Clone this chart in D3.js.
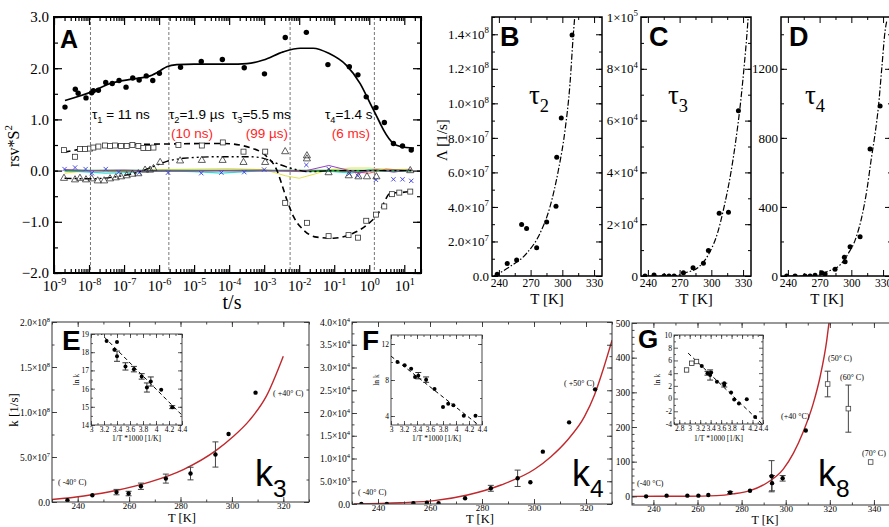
<!DOCTYPE html>
<html><head><meta charset="utf-8">
<script src="https://cdn.jsdelivr.net/npm/d3@7"></script>
<style>body{margin:0;background:#fff}svg{display:block}</style>
</head><body>
<svg id="chart" width="889" height="527"></svg>
<script>
// ================= DATA =================
// Panel A  (t [s], rsv*S^2)
const aDots = [[2.06e-9,1.24],[4.06e-9,1.59],[4.9e-9,1.51],[8.2e-9,1.42],[1.19e-8,1.52],[1.33e-8,1.56],[1.85e-8,1.57],[3.0e-8,1.72],[4.6e-8,1.70],[7.2e-8,1.76],[1.14e-7,1.63],[1.77e-7,1.81],[2.7e-7,1.77],[4.3e-7,1.85],[6.6e-7,1.76],[1.02e-6,1.90],[4.1e-6,2.02],[1.6e-5,2.13],[6.4e-5,2.17],[2.7e-4,2.01],[1.02e-3,1.89],[4.0e-3,2.60],[1.6e-2,2.70],[6.6e-2,2.07],[0.27,2.03],[0.475,1.87],[0.82,1.44],[1.55,1.23],[2.7,0.94],[4.9,0.53],[8.9,0.48],[15.8,0.40]];
const aDotsFit = [[2.06e-9,1.37],[1.2e-8,1.54],[4.0e-8,1.70],[1.85e-7,1.79],[5.5e-7,1.85],[1.07e-6,1.95],[1.66e-6,2.03],[3.2e-6,2.07],[1e-5,2.08],[1e-4,2.08],[3.2e-4,2.09],[9.5e-4,2.16],[3.5e-3,2.32],[1.07e-2,2.39],[2.5e-2,2.39],[7.0e-2,2.29],[0.22,2.06],[0.55,1.70],[1.07,1.31],[2.06,0.92],[2.57,0.79],[4.9,0.53],[7.7,0.47],[18.9,0.44]];
const aSquares = [[1.93e-9,0.40],[3.98e-9,0.27],[5.5e-9,0.42],[7.7e-9,0.42],[1.07e-8,0.43],[1.33e-8,0.45],[1.85e-8,0.47],[2.87e-8,0.49],[3.98e-8,0.48],[5.5e-8,0.49],[8.2e-8,0.48],[1.19e-7,0.48],[1.73e-7,0.50],[2.56e-7,0.48],[3.56e-7,0.44],[4.9e-7,0.44],[6.9e-7,0.45],[3.56e-6,0.50],[1.66e-5,0.49],[6.6e-5,0.55],[2.57e-4,0.37],[1.07e-3,0.37],[3.98e-3,-0.63],[1.66e-2,-1.02],[6.9e-2,-1.28],[0.256,-1.26],[0.475,-1.31],[0.82,-0.98],[1.55,-0.86],[2.68,-0.70],[4.45,-0.46],[7.2,-0.43],[14.8,-0.41]];
const aSquaresFit = [[2.0e-9,0.36],[1.07e-8,0.45],[6e-8,0.50],[1.66e-6,0.52],[6.8e-5,0.53],[3.9e-4,0.45],[1.2e-3,0.27],[2.3e-3,0.01],[3.3e-3,-0.30],[4.6e-3,-0.60],[6.9e-3,-0.90],[1.33e-2,-1.16],[3.2e-2,-1.30],[9.5e-2,-1.32],[0.356,-1.22],[0.86,-1.06],[2.06,-0.77],[2.57,-0.64],[3.98,-0.44],[7.7,-0.43],[14.8,-0.41]];
const aTriangles = [[1.93e-9,-0.15],[3.98e-9,-0.18],[5.5e-9,-0.15],[8.2e-9,-0.18],[1.19e-8,-0.16],[1.77e-8,-0.20],[2.7e-8,-0.20],[3.98e-8,-0.16],[5.8e-8,-0.14],[8.2e-8,-0.12],[1.19e-7,-0.10],[1.73e-7,-0.07],[2.56e-7,-0.06],[3.98e-7,0.01],[5.5e-7,0.01],[6.9e-7,0.04],[1.07e-6,0.16],[3.98e-6,0.19],[1.66e-5,0.20],[6.5e-5,0.20],[2.57e-4,0.16],[1.07e-3,0.16],[3.98e-3,0.37],[1.66e-2,0.23],[1.66e-2,0.29],[6.9e-2,-0.04],[0.26,-0.10],[0.49,-0.12],[0.86,-0.12],[1.6,-0.12],[14.8,0.0]];
const aTrianglesFit = [[2e-9,-0.15],[1.07e-8,-0.16],[6e-8,-0.12],[2.8e-7,-0.02],[6.9e-7,0.08],[1.66e-6,0.18],[4.96e-6,0.24],[4.4e-5,0.27],[3.98e-4,0.27],[9.6e-4,0.24],[2.3e-3,0.14],[5.5e-3,0.05],[2.0e-2,-0.02],[0.1,0.0],[1,0.0],[16,0.0]];
const aCyan = [[2e-9,0.0],[1e-8,-0.03],[3e-8,-0.05],[1e-7,-0.04],[1e-6,0.0],[1e-5,-0.02],[6e-5,-0.05],[3e-4,-0.02],[1e-3,0.0],[4e-3,0.0],[1.6e-2,-0.02],[7e-2,-0.01],[0.3,-0.05],[1,0.02],[5,-0.02],[16,0.0]];
const aYellow = [[2e-9,-0.05],[1e-8,0.0],[1e-7,-0.02],[1e-6,0.02],[1e-5,0.03],[1e-4,0.04],[1e-3,0.02],[4e-3,-0.1],[1e-2,-0.15],[3e-2,-0.06],[7e-2,0.02],[0.3,0.05],[1,0.05],[5,0.02],[16,0.03]];
const aPurple = [[2e-9,0.02],[1e-8,0.0],[1e-7,0.01],[1e-6,-0.01],[1e-4,0.0],[1e-3,0.0],[1.6e-2,0.0],[7e-2,0.1],[0.27,0.0],[0.5,-0.05],[1.5,0.02],[5,-0.03],[16,0.02]];
const aRed = [[2e-9,0.01],[1e-7,-0.01],[1e-5,0.0],[1e-3,0.01],[1e-2,-0.02],[0.1,0.0],[1,-0.05],[3,0.03],[16,0.0]];
const aBlueX = [[2e-9,0.03],[4e-9,0.06],[8e-9,0.03],[1.2e-8,-0.05],[3e-8,0.03],[7e-8,-0.03],[2.7e-7,-0.04],[1.8e-6,-0.04],[1.6e-5,-0.05],[6e-5,-0.04],[2.7e-4,-0.03],[1e-3,0.02],[1.6e-2,0.11],[7e-2,0.03],[0.27,-0.06],[0.47,-0.1],[1.55,-0.18],[4.9,-0.17],[8.9,-0.17],[15.8,-0.2]];
const aTau = [1.1e-8, 1.9e-6, 5.5e-3, 1.4];
const aXTickExp = [-9,-8,-7,-6,-5,-4,-3,-2,-1,0,1];
const aYTicks = [-2,-1,0,1,2,3];

// Panels B, C, D (T [K], Lambda [1/s])
const bcdXTicks = [240,270,300,330];
const bT = [238.4,247.9,256.8,261.5,266.2,275.7,285.2,294,294.7,299,309.2];
const bL = [1.0e6,7.3e6,9.2e6,2.98e7,2.75e7,1.63e7,3.13e7,4.04e7,6.88e7,9.15e7,1.396e8];
const bFitT = [235.3,250.4,266.2,278.8,288.3,296.2,302.5,307.2,310.4,312];
const bFitL = [0,5.4e6,1.31e7,2.46e7,4.0e7,6.11e7,8.42e7,1.11e8,1.40e8,1.52e8];
const bYTicks = [0,2e7,4e7,6e7,8e7,1e8,1.2e8,1.4e8];
const cT = [237.3,245.8,255.3,260,264.8,273.6,282.7,292.5,297.2,307.4,316.2,325.6];
const cL = [0,400,0,0,0,1270,3200,4900,9800,24200,24600,63800];
const cFitT = [240,263.1,275.8,288.4,297.9,305.8,312.1,318.4,323.2,327.9,331,334.2,335];
const cFitL = [0,0,1270,3600,8760,16500,26800,39700,52500,68000,80800,96300,101000];
const cYTicks = [0,2e4,4e4,6e4,8e4,1e5];
const dT = [238.9,246.8,256.2,261,265.7,272,275.2,284.6,293.4,294.1,298.8,308.3,317.7,327.2];
const dL = [0,0,0,0,4,19,12,39,108,83,170,228,735,984];
const dFitT = [240,264.1,276.8,289.4,297.2,303.6,309.9,314.7,318.7,322.5,325.6,328.9,332,333.7];
const dFitL = [0,0,25,64,131,208,343,498,672,826,980,1212,1424,1482];
const dYTicks = [0,400,800,1200];

// Panel E (k3)
const eT = [236,245.7,255.1,259.8,264.6,274.3,283.9,293.6,298.7,309.2];
const eK = [2e6,7.5e6,1.1e7,9.4e6,1.75e7,2.6e7,3.16e7,5.28e7,7.55e7,1.215e8];
const eErr = [0,0,3e6,2.5e6,3.5e6,5e6,7e6,1.4e7,0,0];
const eFitT = [230,242.4,255.3,268.2,281.1,294,300.4,306.9,313.3,320];
const eFitK = [2.7e6,6.7e6,1.3e7,2.23e7,3.6e7,5.76e7,7.25e7,9.1e7,1.17e8,1.62e8];
const eYTicks = [0,5e7,1e8,1.5e8,2e8];
const eiX = [3.24,3.36,3.40,3.40,3.53,3.66,3.78,3.86,3.92,4.08,4.25];
const eiY = [18.61,18.13,18.56,17.78,17.22,17.07,16.67,16.06,16.39,15.93,14.98];
const eiErr = [0,0,0,0.28,0.2,0.15,0.15,0.25,0.25,0,0.08];
const eiLine = [[3.13,19.1],[4.4,14.54]];
const eiYTicks = [14,15,16,17,18,19];

// Panel F (k4)
const fT = [233.6,243.4,253.6,258.8,263.3,273.5,283.4,293.7,298.6,303.4,313.5,323.5];
const fK = [0,0,150,300,150,1250,3450,5650,4770,11500,17950,25200];
const fErr = [0,0,0,0,0,0,650,1800,0,0,0,0];
const fFitT = [230.8,248.7,261.6,274.4,287.3,300.2,306.5,312.9,319.4,323.3,326,330];
const fFitK = [0,290,730,1980,4180,7630,10400,14070,19190,24000,28500,36000];
const fYTicks = [0,5e3,1e4,1.5e4,2e4,2.5e4,3e4,3.5e4,4e4];
const fiX = [3.10,3.21,3.31,3.37,3.42,3.54,3.67,3.80,3.88,3.96,4.12,4.30];
const fiY = [10.0,9.63,9.26,8.33,8.48,8.04,7.0,5.0,5.37,5.19,4.03,4.03];
const fiErr = [0,0,0,0,0.35,0.3,0,0,0,0,0,0];
const fiLine = [[3.0,10.65],[4.33,3.1]];
const fiYTicks = [4,8,12];

// Panel G (k8)
const gT = [236.7,246,255.4,260.4,264.9,274.8,283.8,293.6,293.8,298.6,309.1];
const gK = [0,2,2,2,4,11,16,58,38,52,190];
const gErr = [0,0,0,0,0,3,0,45,22,8,0];
const gSqT = [319,328.4,338.5];
const gSqK = [324,253,99];
const gSqErr = [37,68,0];
const gFitT = [230.3,255,268.7,276.3,283.8,291.4,298.9,303.5,308,312.5,315.6,318.6,319.6];
const gFitK = [0,0.3,2,7,16.4,38.5,78.6,124.6,187,268,345,450,500];
const gYTicks = [0,100,200,300,400,500];
const giSqX = [2.94,3.04,3.13];
const giSqY = [4.5,5.56,5.83];
const giX = [3.23,3.34,3.39,3.41,3.52,3.66,3.66,3.79,3.85,3.94,4.09,4.25];
const giY = [5.14,3.98,3.71,4.09,2.66,2.12,2.4,0.97,-0.14,-0.78,-0.1,-2.89];
const giErr = [0,0.3,0.8,0,0,0.3,0,0,0,0,0,0];
const giLine = [[2.97,7.15],[4.41,-4.2]];
const giYTicks = [-4,-2,0,2,4,6,8,10];
const giXTicks = [2.8,3,3.2,3.4,3.6,3.8,4,4.2,4.4];
const insetXTicks = [3,3.2,3.4,3.6,3.8,4,4.2,4.4];
const bottomXTicks = [240,260,280,300,320,340];

// ================= HELPERS =================
const svg = d3.select('#chart');
const SERIF = "'Liberation Serif','Times New Roman',serif";
const SANS = "'Liberation Sans',Arial,sans-serif";

function rich(sel, str, fs) {
  sel.text(null);
  const parts = str.split(/([\^_]\{[^}]*\})/).filter(s => s.length);
  let shift = 0;
  parts.forEach(p => {
    if (p[0] === '^' || p[0] === '_') {
      const d = p[0] === '^' ? -0.42 * fs : 0.3 * fs;
      const t = sel.append('tspan').attr('font-size', fs * 0.68).text(p.slice(2, -1));
      if (d - shift) t.attr('dy', d - shift);
      shift = d;
    } else {
      const t = sel.append('tspan').text(p);
      if (shift) t.attr('dy', -shift);
      shift = 0;
    }
  });
}
function txt(g, x, y, str, o) {
  o = o || {};
  const t = g.append('text').attr('x', x).attr('y', y)
    .attr('font-family', o.font || SANS).attr('font-size', o.fs || 12)
    .attr('font-weight', o.bold ? 'bold' : null)
    .attr('fill', o.fill || '#000').attr('text-anchor', o.anchor || 'start');
  if (o.rot) t.attr('transform', `rotate(${o.rot},${x},${y})`);
  rich(t, str, o.fs || 12);
  return t;
}
function sci(d, digits) {
  const e = Math.floor(Math.log10(d) + 1e-9);
  const m = d / Math.pow(10, e);
  return m.toFixed(digits) + '×10^{' + e + '}';
}
function range(a, b, s) { const r = []; for (let v = a; v <= b + 1e-9; v += s) r.push(+v.toFixed(6)); return r; }

function axes(g, x, y, o) {
  const [xa, xb] = x.range(), [yb, ya] = y.range();
  const mk = (gen, tr, scale, vals, len) => {
    const a = g.append('g').attr('transform', tr)
      .call(gen(scale).tickValues(vals).tickSize(-len).tickFormat(''));
    a.select('.domain').remove();
    a.selectAll('line').attr('stroke', o.color || '#000').attr('stroke-width', o.tw || 1);
  };
  [[d3.axisBottom, `translate(0,${yb})`], [d3.axisTop, `translate(0,${ya})`]].forEach(([gen, tr]) => {
    if (o.xMinor) mk(gen, tr, x, o.xMinor, o.minLen);
    mk(gen, tr, x, o.xMajor, o.majLen);
  });
  [[d3.axisLeft, `translate(${xa},0)`], [d3.axisRight, `translate(${xb},0)`]].forEach(([gen, tr]) => {
    if (o.yMinor) mk(gen, tr, y, o.yMinor, o.minLen);
    mk(gen, tr, y, o.yMajor, o.majLen);
  });
  if (o.xFmt) {
    const lx = g.append('g').attr('transform', `translate(0,${yb})`)
      .call(d3.axisBottom(x).tickValues(o.xLabels || o.xMajor).tickSize(0).tickPadding(o.xPad).tickFormat(o.xFmt));
    lx.select('.domain').remove();
    lx.selectAll('text').attr('font-family', SERIF).attr('font-size', o.xfs).attr('fill', '#000')
      .each(function () { rich(d3.select(this), this.textContent, o.xfs); });
  }
  if (o.yFmt) {
    const ly = g.append('g').attr('transform', `translate(${xa},0)`)
      .call(d3.axisLeft(y).tickValues(o.yLabels || o.yMajor).tickSize(0).tickPadding(o.yPad).tickFormat(o.yFmt));
    ly.select('.domain').remove();
    ly.selectAll('text').attr('font-family', SERIF).attr('font-size', o.yfs).attr('fill', '#000')
      .each(function () { rich(d3.select(this), this.textContent, o.yfs); });
  }
  g.append('rect').attr('x', xa).attr('y', ya).attr('width', xb - xa).attr('height', yb - ya)
    .attr('fill', 'none').attr('stroke', o.color || '#000').attr('stroke-width', o.frame || 1);
}
let clipN = 0;
function clipped(g, x, y) {
  const id = 'clp' + (clipN++);
  const [xa, xb] = x.range(), [yb, ya] = y.range();
  svg.append('clipPath').attr('id', id).append('rect')
    .attr('x', xa).attr('y', ya).attr('width', xb - xa).attr('height', yb - ya);
  return g.append('g').attr('clip-path', `url(#${id})`);
}
function curve(g, x, y, pts, o) {
  g.append('path').datum(pts)
    .attr('d', d3.line().x(d => x(d[0])).y(d => y(d[1])).curve(o.curve || d3.curveMonotoneX))
    .attr('fill', 'none').attr('stroke', o.color || '#000').attr('stroke-width', o.w || 1.2)
    .attr('stroke-dasharray', o.dash || null);
}
const zip = (a, b) => a.map((v, i) => [v, b[i]]);
function dots(g, x, y, xs, ys, r) {
  g.selectAll(null).data(zip(xs, ys)).join('circle')
    .attr('cx', d => x(d[0])).attr('cy', d => y(d[1])).attr('r', r).attr('fill', '#000');
}
function errbars(g, x, y, xs, ys, es, cap, col) {
  xs.forEach((t, i) => {
    const e = es[i]; if (!e) return;
    const cx = x(t), a = y(ys[i] - e), b = y(ys[i] + e);
    const s = col || '#444';
    g.append('line').attr('x1', cx).attr('x2', cx).attr('y1', a).attr('y2', b).attr('stroke', s).attr('stroke-width', 1);
    [a, b].forEach(yy => g.append('line').attr('x1', cx - cap).attr('x2', cx + cap).attr('y1', yy).attr('y2', yy).attr('stroke', s).attr('stroke-width', 1));
  });
}

// ================= PANEL A =================
{
  const g = svg.append('g');
  const x = d3.scaleLog().domain([1e-9, 30]).range([54, 421]);
  const y = d3.scaleLinear().domain([-2, 3]).range([273, 17]);
  aTau.forEach(t => g.append('line').attr('x1', x(t)).attr('x2', x(t)).attr('y1', 17).attr('y2', 273)
    .attr('stroke', '#777').attr('stroke-width', 1).attr('stroke-dasharray', '3,2'));
  curve(g, x, y, aYellow, { color: '#e6e24a', w: 1, curve: d3.curveLinear });
  curve(g, x, y, aCyan, { color: '#3fd6d6', w: 1.2, curve: d3.curveLinear });
  curve(g, x, y, aRed, { color: '#e04040', w: 0.8, curve: d3.curveLinear });
  curve(g, x, y, [[2e-9, 0], [16, 0]], { color: '#1f9a2a', w: 1.6, curve: d3.curveLinear });
  curve(g, x, y, aPurple, { color: '#9a3fc0', w: 1, curve: d3.curveLinear });
  g.selectAll(null).data(aBlueX).join('path')
    .attr('d', d3.symbol().type(d3.symbolTimes).size(14))
    .attr('transform', d => `translate(${x(d[0])},${y(d[1])})`)
    .attr('fill', 'none').attr('stroke', '#3b3be0').attr('stroke-width', 0.9);
  curve(g, x, y, aTrianglesFit, { dash: '7,3,2,3,2,3', w: 1.4 });
  curve(g, x, y, aSquaresFit, { dash: '6,4', w: 1.6 });
  curve(g, x, y, aDotsFit, { w: 1.7 });
  g.selectAll(null).data(aTriangles).join('path')
    .attr('d', d3.symbol().type(d3.symbolTriangle).size(22))
    .attr('transform', d => `translate(${x(d[0])},${y(d[1])})`)
    .attr('fill', 'none').attr('stroke', '#333').attr('stroke-width', 0.8);
  g.selectAll(null).data(aSquares).join('rect')
    .attr('x', d => x(d[0]) - 2.5).attr('y', d => y(d[1]) - 2.5).attr('width', 5).attr('height', 5)
    .attr('fill', '#fff').attr('stroke', '#333').attr('stroke-width', 0.8);
  dots(g, x, y, aDots.map(d => d[0]), aDots.map(d => d[1]), 2.7);
  txt(g, 60, 48, 'A', { fs: 25, bold: true });
  txt(g, 92, 119, 'τ_{1} = 11 ns', { fs: 13.5 });
  txt(g, 169, 119, 'τ_{2}=1.9 µs', { fs: 13.5 });
  txt(g, 232, 119, 'τ_{3}=5.5 ms', { fs: 13.5 });
  txt(g, 325, 119, 'τ_{4}=1.4 s', { fs: 13.5 });
  txt(g, 171, 138, '(10 ns)', { fs: 13.5, fill: '#ff1f1f' });
  txt(g, 288, 138, '(99 µs)', { fs: 13.5, fill: '#ff1f1f', anchor: 'end' });
  txt(g, 370, 138, '(6 ms)', { fs: 13.5, fill: '#ff1f1f', anchor: 'end' });
  const minor = [];
  aXTickExp.forEach(e => { for (let m = 2; m <= 9; m++) { const v = m * Math.pow(10, e); if (v <= 30) minor.push(v); } });
  axes(g, x, y, {
    xMajor: aXTickExp.map(e => Math.pow(10, e)), xMinor: minor,
    yMajor: aYTicks, yMinor: range(-2, 3, 0.5), majLen: 8, minLen: 4, tw: 1.2, frame: 2,
    xFmt: d => '10^{' + Math.round(Math.log10(d)) + '}', xPad: 7.5, xfs: 15,
    yFmt: d3.format('.1f'), yPad: 5, yfs: 15
  });
  txt(g, 232, 309, 't/s', { font: SERIF, fs: 20, anchor: 'middle' });
  txt(g, 19, 146, 'rsv*S^{2}', { font: SERIF, fs: 16, anchor: 'middle', rot: -90 });
}

// ================= PANELS B, C, D =================
function tPanel(x0, tl, fitT, fitL, T, L, dom, yTicks, yMinor, yFmt, tau, letter) {
  const g = svg.append('g');
  const x = d3.scaleLinear().domain([233.5, 337.5]).range([x0, x0 + 110]);
  const y = d3.scaleLinear().domain(dom).range([276, 17]);
  const cg = clipped(g, x, y);
  curve(cg, x, y, zip(fitT, fitL), { dash: '6,2,1.5,2', w: 1.2 });
  dots(cg, x, y, T, L, 2.5);
  axes(g, x, y, {
    xMajor: bcdXTicks, xMinor: [255, 285, 315], yMajor: yTicks, yMinor: yMinor,
    majLen: 6, minLen: 3, tw: 1, frame: 1.5,
    xFmt: d => String(d), xPad: 2.5, xfs: 11.5, yFmt: yFmt, yPad: 3, yfs: 13
  });
  txt(g, x0 + 55 - tl, 304, 'T [K]', { font: SERIF, fs: 15, anchor: 'middle' });
  txt(g, x0 + tau, 104, 'τ_{' + letter[1] + '}', { font: SERIF, fs: 27 });
  txt(g, x0 + 8, 46, letter[0], { fs: 27, bold: true });
  return g;
}
{
  const gB = tPanel(492, 0, bFitT, bFitL, bT, bL, [0, 1.5e8], bYTicks, range(0, 1.5e8, 1e7),
    d => d === 0 ? '0.0' : sci(d, 1), 37, ['B', '2']);
  txt(gB, 447, 140, 'Λ [1/s]', { font: SERIF, fs: 15, anchor: 'middle', rot: -90 });
  tPanel(641, 0, cFitT, cFitL, cT, cL, [0, 1e5], cYTicks, range(0, 1e5, 1e4),
    d => d === 0 ? '0' : sci(d, 0), 27, ['C', '3']);
  tPanel(781, 9, dFitT, dFitL, dT, dL, [0, 1500], dYTicks, range(0, 1400, 200),
    d => String(d), 24, ['D', '4']);
}

// ================= BOTTOM PANELS =================
function inset(g, box, xdom, ydom, xTicks, yTicks, yMinor, lblX) {
  const x = d3.scaleLinear().domain(xdom).range([box[0], box[1]]);
  const y = d3.scaleLinear().domain(ydom).range([box[3], box[2]]);
  g.append('rect').attr('x', box[0]).attr('y', box[2]).attr('width', box[1] - box[0]).attr('height', box[3] - box[2]).attr('fill', '#fff');
  return { x, y, finish: () => {
    axes(g, x, y, {
      xMajor: xTicks, xMinor: range(Math.ceil(xdom[0] * 10) / 10, xdom[1], 0.1), yMajor: yTicks, yMinor: yMinor,
      majLen: 4, minLen: 2, tw: 0.8, frame: 0.9, color: '#333',
      xFmt: d => String(d), xPad: 1.5, xfs: 7.5, yFmt: d => String(d), yPad: 2, yfs: 7.5
    });
    txt(g, (box[0] + box[1]) / 2, 441, '1/T *1000 [1/K]', { font: SERIF, fs: 7.5, anchor: 'middle' });
    txt(g, lblX, (box[2] + box[3]) / 2, 'ln k', { font: SERIF, fs: 7.5, anchor: 'middle', rot: -90 });
  } };
}
function kPanel(xr, yr, xdom, ydom, yTicks, yMinor, yFmt) {
  const g = svg.append('g');
  const x = d3.scaleLinear().domain(xdom).range(xr);
  const y = d3.scaleLinear().domain(ydom).range(yr);
  return { g, x, y, cg: clipped(g, x, y), finish: () => axes(g, x, y, {
    xMajor: bottomXTicks.filter(v => v <= xdom[1]), xMinor: range(230, xdom[1], 10).filter(v => v >= xdom[0]),
    yMajor: yTicks, yMinor: yMinor, majLen: 5, minLen: 2.5, tw: 0.9, frame: 1, color: '#333',
    xFmt: d => String(d), xPad: 1, xfs: 9, yFmt: yFmt, yPad: 2, yfs: 9.5
  }) };
}
const RED = '#c0282c';
// ---- E ----
{
  const P = kPanel([52, 309], [502, 322], [230, 330], [0, 2e8], eYTicks, range(0, 2e8, 2.5e7), d => d === 0 ? '0.0' : sci(d, 1));
  curve(P.cg, P.x, P.y, zip(eFitT, eFitK), { color: RED, w: 1.4 });
  errbars(P.cg, P.x, P.y, eT, eK, eErr, 3);
  dots(P.cg, P.x, P.y, eT, eK, 2.2);
  txt(P.g, 58, 485, '( -40° C)', { font: SERIF, fs: 8 });
  txt(P.g, 273, 396, '( +40° C)', { font: SERIF, fs: 8 });
  txt(P.g, 255, 486, 'k_{3}', { fs: 36 });
  const I = inset(P.g, [91, 182, 334, 425], [3, 4.4], [14, 19], insetXTicks, eiYTicks, range(14, 19, 0.5), 79);
  const ic = clipped(P.g, I.x, I.y);
  curve(ic, I.x, I.y, eiLine, { dash: '4,3', w: 1, curve: d3.curveLinear });
  errbars(ic, I.x, I.y, eiX, eiY, eiErr, 3, '#333');
  dots(ic, I.x, I.y, eiX, eiY, 2);
  I.finish();
  P.finish();
  txt(P.g, 62, 350, 'E', { fs: 28, bold: true });
  txt(P.g, 182, 522, 'T [K]', { font: SERIF, fs: 12.5, anchor: 'middle' });
  txt(P.g, 18, 410, 'k [1/s]', { font: SERIF, fs: 13, anchor: 'middle', rot: -90 });
}
// ---- F ----
{
  const P = kPanel([352, 612], [504, 322], [230, 330], [0, 4e4], fYTicks, range(0, 4e4, 2.5e3), d => d === 0 ? '0.0' : sci(d, 1));
  curve(P.cg, P.x, P.y, zip(fFitT, fFitK), { color: RED, w: 1.4 });
  errbars(P.cg, P.x, P.y, fT, fK, fErr, 3);
  dots(P.cg, P.x, P.y, fT, fK, 2.2);
  txt(P.g, 358, 495, '( -40° C)', { font: SERIF, fs: 8 });
  txt(P.g, 564, 386, '( +50° C)', { font: SERIF, fs: 8 });
  txt(P.g, 572, 486, 'k_{4}', { fs: 36 });
  const I = inset(P.g, [391, 482, 335, 425], [3, 4.4], [3, 13], insetXTicks, fiYTicks, range(4, 12, 2), 379);
  const ic = clipped(P.g, I.x, I.y);
  curve(ic, I.x, I.y, fiLine, { dash: '4,3', w: 1, curve: d3.curveLinear });
  errbars(ic, I.x, I.y, fiX, fiY, fiErr, 3, '#333');
  dots(ic, I.x, I.y, fiX, fiY, 2);
  I.finish();
  P.finish();
  txt(P.g, 362, 350, 'F', { fs: 28, bold: true });
  txt(P.g, 480, 523, 'T [K]', { font: SERIF, fs: 12.5, anchor: 'middle' });
}
// ---- G ----
{
  const P = kPanel([632, 896], [505, 323], [230.3, 350], [-25, 500], gYTicks, range(-20, 500, 20), d => String(d));
  curve(P.cg, P.x, P.y, zip(gFitT, gFitK), { color: RED, w: 1.4 });
  errbars(P.cg, P.x, P.y, gT, gK, gErr, 3);
  errbars(P.cg, P.x, P.y, gSqT, gSqK, gSqErr, 3);
  dots(P.cg, P.x, P.y, gT, gK, 2.2);
  P.cg.selectAll(null).data(zip(gSqT, gSqK)).join('rect')
    .attr('x', d => P.x(d[0]) - 2.3).attr('y', d => P.y(d[1]) - 2.3).attr('width', 4.6).attr('height', 4.6)
    .attr('fill', '#fff').attr('stroke', '#444').attr('stroke-width', 0.8);
  txt(P.g, 637, 486, '(-40 °C)', { font: SERIF, fs: 8 });
  txt(P.g, 781, 419, '(+40 °C)', { font: SERIF, fs: 8 });
  txt(P.g, 828, 361, '(50° C)', { font: SERIF, fs: 8 });
  txt(P.g, 840, 380, '(60° C)', { font: SERIF, fs: 8 });
  txt(P.g, 862, 456, '(70° C)', { font: SERIF, fs: 8 });
  txt(P.g, 818, 486, 'k_{8}', { fs: 36 });
  const I = inset(P.g, [674, 763, 335, 424], [2.7, 4.4], [-4, 10], giXTicks, giYTicks, range(-3, 9, 2), 660);
  const ic = clipped(P.g, I.x, I.y);
  curve(ic, I.x, I.y, giLine, { dash: '4,3', w: 1, curve: d3.curveLinear });
  errbars(ic, I.x, I.y, giX, giY, giErr, 3, '#333');
  ic.selectAll(null).data(zip(giSqX, giSqY)).join('rect')
    .attr('x', d => I.x(d[0]) - 2.2).attr('y', d => I.y(d[1]) - 2.2).attr('width', 4.4).attr('height', 4.4)
    .attr('fill', '#fff').attr('stroke', '#333').attr('stroke-width', 0.8);
  dots(ic, I.x, I.y, giX, giY, 2);
  I.finish();
  P.finish();
  txt(P.g, 638, 348, 'G', { fs: 26, bold: true });
  txt(P.g, 765, 524, 'T [K]', { font: SERIF, fs: 12, anchor: 'middle' });
}
</script>
</body></html>
